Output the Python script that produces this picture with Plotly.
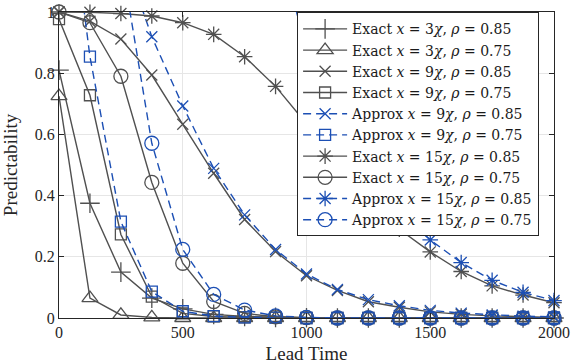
import numpy as np
import plotly.graph_objects as go

lead_time = [0, 125, 250, 375, 500, 625, 750, 875, 1000, 1125, 1250, 1375, 1500, 1625, 1750, 1875, 2000]

exact_3_085 = [0.81, 0.375, 0.15, 0.065, 0.03, 0.012, 0.005, 0.002, 0.001, 0, 0, 0, 0, 0, 0, 0, 0]
exact_3_075 = [0.725, 0.065, 0.01, 0.002, 0, 0, 0, 0, 0, 0, 0, 0, 0, 0, 0, 0, 0]
exact_9_085 = [1.0, 0.97, 0.912, 0.794, 0.633, 0.473, 0.322, 0.217, 0.138, 0.09, 0.053, 0.035, 0.02, 0.012, 0.007, 0.004, 0.002]
exact_9_075 = [0.977, 0.728, 0.273, 0.07, 0.015, 0.005, 0.002, 0.001, 0, 0, 0, 0, 0, 0, 0, 0, 0]
approx_9_085 = [2.0, 1.6, 1.21, 0.919, 0.693, 0.489, 0.337, 0.224, 0.144, 0.093, 0.06, 0.04, 0.025, 0.016, 0.01, 0.006, 0.004]
approx_9_075 = [1.65, 0.854, 0.315, 0.086, 0.022, 0.006, 0.002, 0.001, 0, 0, 0, 0, 0, 0, 0, 0, 0]
exact_15_085 = [1.0, 0.999, 0.995, 0.987, 0.965, 0.927, 0.854, 0.757, 0.635, 0.51, 0.39, 0.29, 0.216, 0.152, 0.105, 0.075, 0.05]
exact_15_075 = [1.0, 0.965, 0.79, 0.443, 0.179, 0.054, 0.015, 0.004, 0.001, 0, 0, 0, 0, 0, 0, 0, 0]
approx_15_085 = [3.0, 2.6, 2.2, 1.9, 1.7, 1.55, 1.4, 1.25, 0.88, 0.64, 0.47, 0.345, 0.255, 0.181, 0.123, 0.084, 0.057]
approx_15_075 = [2.0, 1.6, 1.18, 0.571, 0.224, 0.077, 0.026, 0.007, 0.002, 0, 0, 0, 0, 0, 0, 0, 0]

x_ticks = [0, 500, 1000, 1500, 2000]
y_ticks = [0, 0.2, 0.4, 0.6, 0.8, 1]
y_tick_labels = ["0", "0.2", "0.4", "0.6", "0.8", "1"]

GRAY = "#505050"
BLUE = "#1c4fb4"

def lbl(kind, mult, rho):
    return f"{kind} <i>x</i> = {mult}<i>χ</i>, <i>ρ</i> = {rho}"

series = [
    (lbl("Exact", 3, "0.85"), exact_3_085, GRAY, "solid", "cross-thin", 14),
    (lbl("Exact", 3, "0.75"), exact_3_075, GRAY, "solid", "triangle-up-open", 14),
    (lbl("Exact", 9, "0.85"), exact_9_085, GRAY, "solid", "x-thin", 11),
    (lbl("Exact", 9, "0.75"), exact_9_075, GRAY, "solid", "square-open", 11),
    (lbl("Approx", 9, "0.85"), approx_9_085, BLUE, "dash", "x-thin", 11),
    (lbl("Approx", 9, "0.75"), approx_9_075, BLUE, "dash", "square-open", 11),
    (lbl("Exact", 15, "0.85"), exact_15_085, GRAY, "solid", "asterisk", 13),
    (lbl("Exact", 15, "0.75"), exact_15_075, GRAY, "solid", "circle-open", 14),
    (lbl("Approx", 15, "0.85"), approx_15_085, BLUE, "dash", "asterisk", 13),
    (lbl("Approx", 15, "0.75"), approx_15_075, BLUE, "dash", "circle-open", 14),
]

fig = go.Figure()
t = np.array(lead_time, dtype=float)
for name, vals, color, dash, sym, size in series:
    v = np.array(vals, dtype=float)
    dash_style = "8px,5px" if dash == "dash" else "solid"
    fig.add_trace(go.Scatter(x=t, y=v, mode="lines", showlegend=False, hoverinfo="skip",
                             line=dict(color=color, width=1.4, dash=dash_style)))
    inside = v <= 1.0
    fig.add_trace(go.Scatter(x=t[inside], y=v[inside], mode="markers", showlegend=False,
                             hoverinfo="skip", cliponaxis=False,
                             marker=dict(symbol=sym, size=size, color=color,
                                         line=dict(color=color, width=1.3))))
    fig.add_trace(go.Scatter(x=[None], y=[None], mode="lines+markers", name=name,
                             line=dict(color=color, width=1.4, dash=dash_style),
                             marker=dict(symbol=sym, size=size, color=color,
                                         line=dict(color=color, width=1.3))))

axis_font = dict(family="Liberation Serif, Times New Roman, serif", size=16, color="#262626")

fig.update_layout(
    width=571, height=364,
    margin=dict(l=59, r=17, t=12, b=46),
    paper_bgcolor="white", plot_bgcolor="white",
    font=axis_font,
    showlegend=True,
    legend=dict(x=0.481, y=0.999, xanchor="left", yanchor="top",
                bgcolor="white", bordercolor="#262626", borderwidth=1,
                font=dict(family="DejaVu Serif, serif", size=14, color="#1a1a1a"),
                tracegroupgap=0, itemwidth=44),
    xaxis=dict(range=[0, 2000], tickvals=x_ticks, ticks="inside", ticklen=5,
               tickcolor="#262626", showline=True, linecolor="#262626", linewidth=1,
               mirror="ticks", showgrid=True, gridcolor="#e6e6e6", gridwidth=1,
               zeroline=False, automargin=False, title=dict(text="Lead Time"), tickfont=axis_font),
    yaxis=dict(range=[0, 1], tickvals=y_ticks, ticktext=y_tick_labels, ticks="inside", ticklen=5,
               tickcolor="#262626", showline=True, linecolor="#262626", linewidth=1,
               mirror="ticks", showgrid=True, gridcolor="#e6e6e6", gridwidth=1,
               zeroline=False, automargin=False, title=dict(text="Predictability"), tickfont=axis_font),
)

fig.write_html("out.html")
